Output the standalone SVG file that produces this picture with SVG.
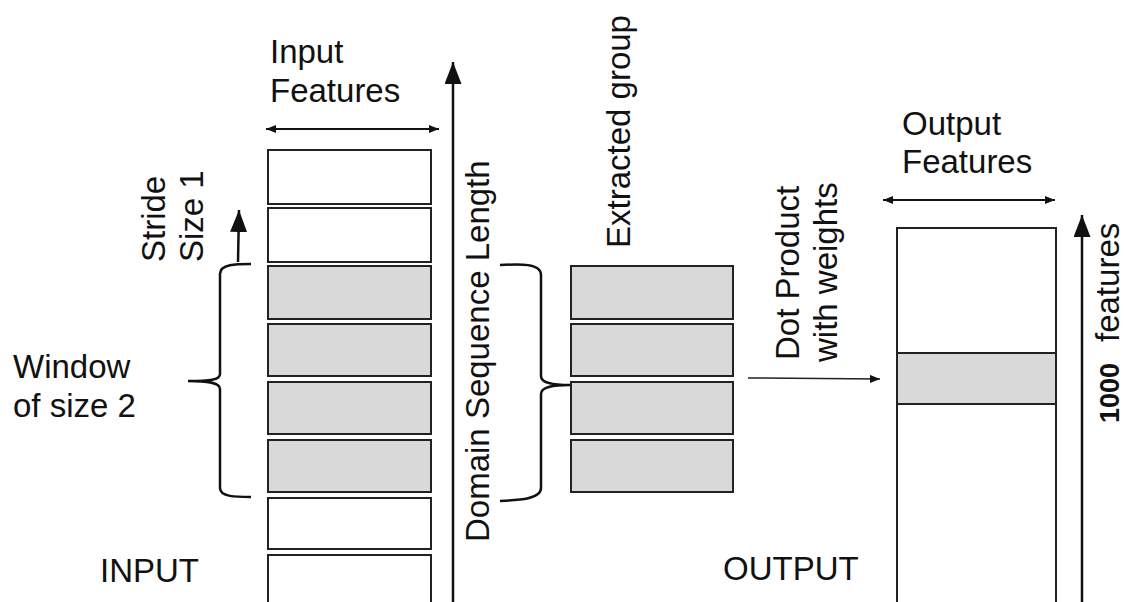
<svg xmlns="http://www.w3.org/2000/svg" width="1124" height="602" viewBox="0 0 1124 602">
  <style>
    .lbl { font-family: "Liberation Sans", Arial, sans-serif; font-size: 33px; fill: #111; }
    .cell { fill: #ffffff; stroke: #222; stroke-width: 2; }
    .cell.on { fill: #d9d9d9; }
    .axis { stroke: #111; stroke-width: 2.5; fill: none; }
    .span { stroke: #111; stroke-width: 2; fill: none; }
    .thin { stroke: #222; stroke-width: 1.5; fill: none; }
    .brace { stroke: #111; stroke-width: 2.5; fill: none; }
  </style>
  <defs>
    <marker id="bigHead" viewBox="0 0 22 17" refX="22" refY="8.5" markerWidth="22" markerHeight="17" markerUnits="userSpaceOnUse" orient="auto">
      <path d="M0,0 L22,8.5 L0,17 z" fill="#111"/>
    </marker>
    <marker id="smallHead" viewBox="0 0 10 8" refX="10" refY="4" markerWidth="10" markerHeight="8" markerUnits="userSpaceOnUse" orient="auto-start-reverse">
      <path d="M0,0 L10,4 L0,8 z" fill="#111"/>
    </marker>
  </defs>

  <rect width="1124" height="602" fill="#ffffff"/>

  <!-- input sequence: one row per position -->
  <g id="input-column">
    <rect class="cell" x="268" y="150" width="163" height="54"/>
    <rect class="cell" x="268" y="208" width="163" height="54"/>
    <rect class="cell on" x="268" y="266" width="163" height="53"/>
    <rect class="cell on" x="268" y="324" width="163" height="52"/>
    <rect class="cell on" x="268" y="382" width="163" height="52"/>
    <rect class="cell on" x="268" y="440" width="163" height="52"/>
    <rect class="cell" x="268" y="498" width="163" height="51"/>
    <rect class="cell" x="268" y="555" width="163" height="60"/>
  </g>

  <!-- rows picked out by the window -->
  <g id="extracted-group">
    <rect class="cell on" x="571" y="266" width="162" height="53"/>
    <rect class="cell on" x="571" y="324" width="162" height="52"/>
    <rect class="cell on" x="571" y="382" width="162" height="52"/>
    <rect class="cell on" x="571" y="440" width="162" height="52"/>
  </g>

  <!-- output feature vector -->
  <g id="output-column">
    <rect class="cell" x="897" y="228" width="159" height="400"/>
    <rect class="cell on" x="897" y="353" width="159" height="51"/>
  </g>

  <g id="connectors">
    <line class="span" x1="266" y1="129" x2="439" y2="129" marker-start="url(#smallHead)" marker-end="url(#smallHead)"/>
    <line class="span" x1="883" y1="200" x2="1055" y2="200" marker-start="url(#smallHead)" marker-end="url(#smallHead)"/>
    <line class="axis" x1="453" y1="602" x2="453" y2="62" marker-end="url(#bigHead)"/>
    <line class="axis" x1="1082" y1="602" x2="1082" y2="215" marker-end="url(#bigHead)"/>
    <line class="axis" x1="238" y1="262" x2="239" y2="210" marker-end="url(#bigHead)"/>
    <line class="thin" x1="748" y1="378" x2="880" y2="379" marker-end="url(#smallHead)"/>
    <path class="brace" d="M251,264 C236,264 220,264 220,274 L220,374 C220,380 210,381 188,381 C210,381 220,383 220,389 L220,488 C220,497 236,497 251,497"/>
    <path class="brace" d="M500,265 C520,264 541,263 541,275 L541,376 C541,383 552,385 570,385 C552,385 541,387 541,394 L541,488 C541,499 520,500 500,501"/>
  </g>

  <g id="labels">
    <text class="lbl" x="270" y="63">Input</text>
    <text class="lbl" x="270" y="102">Features</text>
    <text class="lbl" x="902" y="135">Output</text>
    <text class="lbl" x="902" y="173">Features</text>
    <text class="lbl" x="13" y="378">Window</text>
    <text class="lbl" x="13" y="417">of size 2</text>
    <text class="lbl" x="100" y="582">INPUT</text>
    <text class="lbl" x="723" y="580">OUTPUT</text>
    <text class="lbl" transform="translate(165,262) rotate(-90)">Stride</text>
    <text class="lbl" transform="translate(203,262) rotate(-90)">Size 1</text>
    <text class="lbl" transform="translate(489,542) rotate(-90)">Domain Sequence Length</text>
    <text class="lbl" transform="translate(630,248) rotate(-90)">Extracted group</text>
    <text class="lbl" transform="translate(799,360) rotate(-90)">Dot Product</text>
    <text class="lbl" transform="translate(837,362) rotate(-90)">with weights</text>
    <g transform="translate(1119,425) rotate(-90)">
      <text class="lbl" x="2" y="0" style="font-size:27px;font-weight:bold">1000</text>
      <text class="lbl" x="83" y="0">features</text>
    </g>
  </g>
</svg>
